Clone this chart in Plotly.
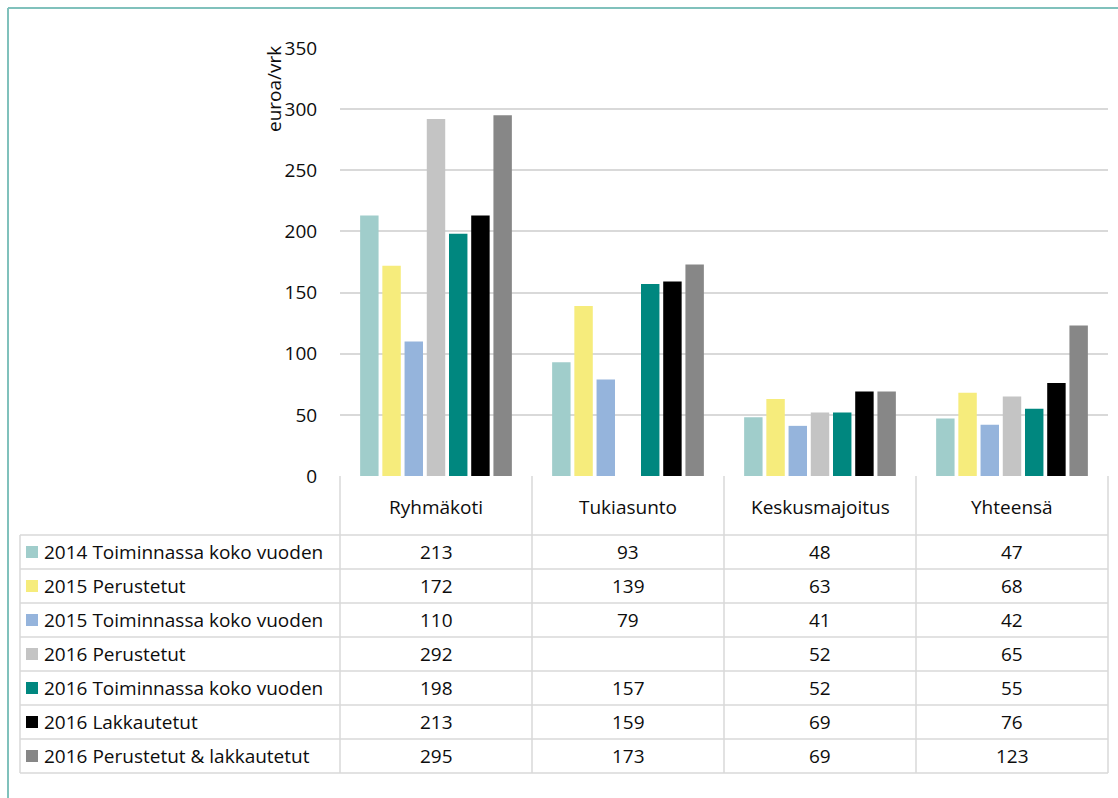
import plotly.graph_objects as go

# Categories and series (euroa/vrk)
categories = ["Ryhmäkoti", "Tukiasunto", "Keskusmajoitus", "Yhteensä"]
series_names = [
    "2014 Toiminnassa koko vuoden",
    "2015 Perustetut",
    "2015 Toiminnassa koko vuoden",
    "2016 Perustetut",
    "2016 Toiminnassa koko vuoden",
    "2016 Lakkautetut",
    "2016 Perustetut & lakkautetut",
]
v2014_toiminnassa = [213, 93, 48, 47]
v2015_perustetut = [172, 139, 63, 68]
v2015_toiminnassa = [110, 79, 41, 42]
v2016_perustetut = [292, None, 52, 65]
v2016_toiminnassa = [198, 157, 52, 55]
v2016_lakkautetut = [213, 159, 69, 76]
v2016_per_lak = [295, 173, 69, 123]
y_ticks = [0, 50, 100, 150, 200, 250, 300, 350]

series_values = [
    v2014_toiminnassa, v2015_perustetut, v2015_toiminnassa, v2016_perustetut,
    v2016_toiminnassa, v2016_lakkautetut, v2016_per_lak,
]
colors = ["#a0cdcb", "#f6ec7c", "#95b4dc", "#c4c4c4", "#00877f", "#000000", "#878787"]

W, H = 1118, 798
FONT = "Open Sans"
FS = 19
TXT = "#0d0d0d"


def px(x):
    return x / W


def py(y):
    return 1 - y / H


fig = go.Figure()
for name, vals, col in zip(series_names, series_values, colors):
    fig.add_trace(go.Bar(
        x=categories, y=vals, name=name, marker=dict(color=col, line=dict(width=0)),
        showlegend=False,
    ))

# Plot area geometry (pixels)
X0, X1 = 340, 1108
Y_ZERO, Y_TOP = 476, 48
header_bottom = 535
row_h = 34.0
n_rows = len(series_names)
table_bottom = header_bottom + row_h * n_rows
label_left = 20

shapes = []
line_style = dict(color="#d9d9d9", width=1.5)

# Outer chart frame
frame = dict(color="#80c1bc", width=2)
shapes.append(dict(type="line", xref="paper", yref="paper", x0=px(8), x1=1,
                   y0=py(8), y1=py(8), line=frame))
shapes.append(dict(type="line", xref="paper", yref="paper", x0=px(8), x1=px(8),
                   y0=py(8), y1=0, line=frame))

# Table: vertical separators of category columns
col_w = (X1 - X0) / len(categories)
for i in range(len(categories) + 1):
    x = X0 + i * col_w
    shapes.append(dict(type="line", xref="paper", yref="paper", x0=px(x), x1=px(x),
                       y0=py(Y_ZERO), y1=py(table_bottom), line=line_style))
# Left edge of the label column
shapes.append(dict(type="line", xref="paper", yref="paper", x0=px(label_left), x1=px(label_left),
                   y0=py(header_bottom), y1=py(table_bottom), line=line_style))
# Horizontal row lines
for r in range(n_rows + 1):
    y = header_bottom + r * row_h
    shapes.append(dict(type="line", xref="paper", yref="paper", x0=px(label_left), x1=px(X1),
                       y0=py(y), y1=py(y), line=line_style))

annotations = []
# Category headers
for i, c in enumerate(categories):
    annotations.append(dict(xref="paper", yref="paper", x=px(X0 + (i + 0.5) * col_w),
                            y=py((Y_ZERO + header_bottom) / 2 + 1), text=c, showarrow=False,
                            font=dict(family=FONT, size=FS, color=TXT),
                            xanchor="center", yanchor="middle"))

# Rows: legend key, series name, values
for r, (name, vals, col) in enumerate(zip(series_names, series_values, colors)):
    yc = header_bottom + (r + 0.5) * row_h
    shapes.append(dict(type="rect", xref="paper", yref="paper",
                       x0=px(26), x1=px(38), y0=py(yc - 6), y1=py(yc + 6),
                       fillcolor=col, line=dict(width=0)))
    annotations.append(dict(xref="paper", yref="paper", x=px(42), y=py(yc), text=name,
                            showarrow=False, font=dict(family=FONT, size=FS, color=TXT),
                            xanchor="left", yanchor="middle"))
    for i, v in enumerate(vals):
        if v is None:
            continue
        annotations.append(dict(xref="paper", yref="paper", x=px(X0 + (i + 0.5) * col_w),
                                y=py(yc), text=str(v), showarrow=False,
                                font=dict(family=FONT, size=FS, color=TXT),
                                xanchor="center", yanchor="middle"))

# Axis title
annotations.append(dict(xref="paper", yref="paper", x=px(274), y=py(89), text="euroa/vrk",
                        textangle=-90, showarrow=False,
                        font=dict(family=FONT, size=FS, color=TXT),
                        xanchor="center", yanchor="middle"))

fig.update_layout(
    width=W, height=H,
    autosize=False,
    margin=dict(l=0, r=0, t=0, b=0, pad=0, autoexpand=False),
    paper_bgcolor="white", plot_bgcolor="white",
    barmode="group", bargap=0.19, bargroupgap=0.17,
    xaxis=dict(domain=[px(X0), px(X1)], showticklabels=False, showline=False,
               showgrid=False, zeroline=False, ticks="", automargin=False),
    yaxis=dict(domain=[py(Y_ZERO), py(Y_TOP)], range=[0, 350], tickvals=y_ticks,
               showgrid=True, gridcolor="#d9d9d9", gridwidth=1.5, zeroline=False,
               showline=False, ticks="outside", ticklen=18, tickcolor="rgba(0,0,0,0)",
               automargin=False,
               tickfont=dict(family=FONT, size=FS, color=TXT)),
    shapes=shapes,
    annotations=annotations,
)

fig.write_html("out.html")
